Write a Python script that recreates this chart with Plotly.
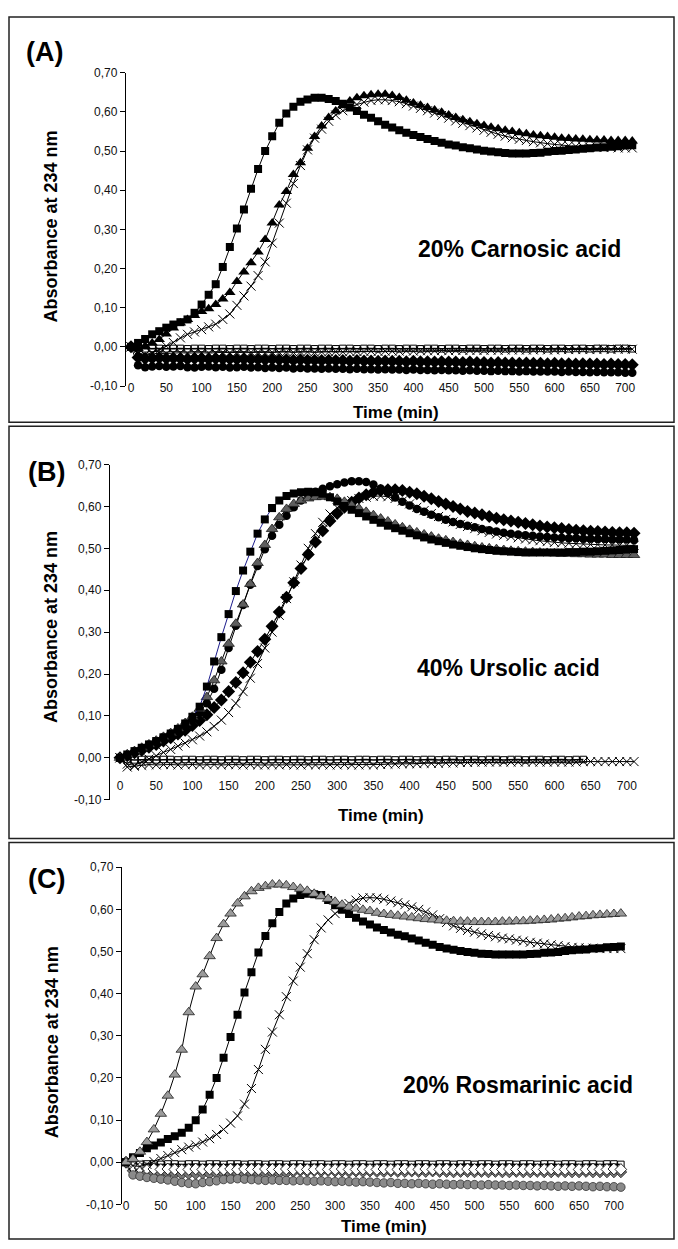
import plotly.graph_objects as go

W, H = 678, 1249

TIME = [0, 10, 20, 30, 40, 50, 60, 70, 80, 90,
        100, 110, 120, 130, 140, 150, 160, 170, 180, 190,
        200, 210, 220, 230, 240, 250, 260, 270, 280, 290,
        300, 310, 320, 330, 340, 350, 360, 370, 380, 390,
        400, 410, 420, 430, 440, 450, 460, 470, 480, 490,
        500, 510, 520, 530, 540, 550, 560, 570, 580, 590,
        600, 610, 620, 630, 640, 650, 660, 670, 680, 690,
        700, 710]

XTICKS = [0, 50, 100, 150, 200, 250, 300, 350, 400, 450, 500, 550, 600, 650, 700]
XTICK_TEXT = ["0", "50", "100", "150", "200", "250", "300", "350", "400", "450",
              "500", "550", "600", "650", "700"]
YTICKS = [-0.1, 0.0, 0.1, 0.2, 0.3, 0.4, 0.5, 0.6, 0.7]
YTICK_TEXT = ["-0,10", "0,00", "0,10", "0,20", "0,30", "0,40", "0,50", "0,60", "0,70"]

# ---------------- Panel A : 20% Carnosic acid ----------------
A_SQUARE = [0.000, 0.010, 0.020, 0.032, 0.040, 0.049, 0.057, 0.063, 0.070, 0.087,
            0.108, 0.133, 0.160, 0.204, 0.255, 0.302, 0.351, 0.404, 0.454, 0.500,
            0.538, 0.572, 0.596, 0.613, 0.626, 0.632, 0.636, 0.636, 0.633, 0.628,
            0.621, 0.611, 0.602, 0.593, 0.585, 0.576, 0.567, 0.560, 0.553, 0.547,
            0.541, 0.536, 0.531, 0.526, 0.521, 0.517, 0.514, 0.510, 0.507, 0.504,
            0.501, 0.499, 0.497, 0.495, 0.494, 0.494, 0.494, 0.495, 0.496, 0.498,
            0.500, 0.501, 0.503, 0.504, 0.506, 0.507, 0.509, 0.510, 0.511, 0.512,
            0.514, 0.515]
A_TRIANGLE = [0.000, -0.004, 0.002, 0.010, 0.019, 0.033, 0.048, 0.061, 0.070, 0.080,
              0.090, 0.097, 0.108, 0.122, 0.139, 0.167, 0.191, 0.215, 0.242, 0.274,
              0.316, 0.362, 0.397, 0.440, 0.470, 0.507, 0.537, 0.564, 0.586, 0.602,
              0.616, 0.628, 0.636, 0.641, 0.644, 0.645, 0.645, 0.642, 0.637, 0.630,
              0.623, 0.617, 0.611, 0.605, 0.599, 0.592, 0.586, 0.580, 0.575, 0.570,
              0.565, 0.561, 0.557, 0.553, 0.550, 0.547, 0.544, 0.541, 0.539, 0.537,
              0.535, 0.533, 0.532, 0.531, 0.530, 0.529, 0.528, 0.528, 0.527, 0.527,
              0.527, 0.526]
A_CROSS = [0.000, -0.015, -0.020, -0.015, -0.008, 0.002, 0.011, 0.023, 0.032, 0.038,
           0.044, 0.051, 0.058, 0.070, 0.084, 0.106, 0.130, 0.155, 0.182, 0.217,
           0.265, 0.316, 0.367, 0.417, 0.463, 0.503, 0.533, 0.556, 0.576, 0.592,
           0.603, 0.612, 0.619, 0.625, 0.629, 0.631, 0.631, 0.629, 0.626, 0.621,
           0.615, 0.609, 0.603, 0.597, 0.591, 0.584, 0.577, 0.571, 0.565, 0.559,
           0.553, 0.548, 0.543, 0.538, 0.534, 0.530, 0.527, 0.524, 0.521, 0.519,
           0.517, 0.515, 0.514, 0.512, 0.511, 0.510, 0.510, 0.509, 0.509, 0.508,
           0.508, 0.508]
A_OPEN_SQUARE = [0.000, -0.004, -0.005, -0.004, -0.004, -0.005, -0.004, -0.004, -0.005, -0.004,
                 -0.004, -0.005, -0.004, -0.004, -0.005, -0.004, -0.004, -0.005, -0.004, -0.004,
                 -0.005, -0.004, -0.004, -0.005, -0.004, -0.004, -0.005, -0.004, -0.004, -0.005,
                 -0.004, -0.004, -0.005, -0.004, -0.004, -0.005, -0.004, -0.004, -0.005, -0.004,
                 -0.004, -0.005, -0.004, -0.004, -0.005, -0.004, -0.004, -0.005, -0.004, -0.004,
                 -0.005, -0.004, -0.004, -0.005, -0.004, -0.004, -0.005, -0.004, -0.004, -0.005,
                 -0.004, -0.004, -0.005, -0.004, -0.004, -0.005, -0.004, -0.004, -0.005, -0.004,
                 -0.004, -0.005]
A_LOW_CROSS = [0.000, -0.018, -0.021, -0.018, -0.016, -0.017, -0.016, -0.015, -0.016, -0.015,
               -0.015, -0.016, -0.015, -0.014, -0.015, -0.014, -0.015, -0.014, -0.014, -0.015,
               -0.014, -0.014, -0.013, -0.014, -0.013, -0.013, -0.014, -0.013, -0.013, -0.012,
               -0.013, -0.012, -0.012, -0.012, -0.011, -0.012, -0.011, -0.011, -0.011, -0.010,
               -0.011, -0.010, -0.010, -0.010, -0.009, -0.010, -0.009, -0.009, -0.009, -0.009,
               -0.009, -0.008, -0.009, -0.008, -0.008, -0.008, -0.008, -0.008, -0.007, -0.008,
               -0.008, -0.007, -0.007, -0.007, -0.007, -0.007, -0.007, -0.006, -0.007, -0.006,
               -0.006, -0.006]
A_DIAMOND = [0.000, -0.027, -0.030, -0.029, -0.028, -0.030, -0.029, -0.030, -0.031, -0.030,
             -0.030, -0.031, -0.030, -0.031, -0.031, -0.032, -0.031, -0.032, -0.032, -0.033,
             -0.032, -0.033, -0.033, -0.034, -0.033, -0.034, -0.034, -0.035, -0.034, -0.035,
             -0.035, -0.036, -0.035, -0.036, -0.036, -0.037, -0.036, -0.037, -0.037, -0.038,
             -0.037, -0.038, -0.038, -0.039, -0.038, -0.039, -0.039, -0.040, -0.039, -0.040,
             -0.040, -0.041, -0.040, -0.041, -0.041, -0.042, -0.041, -0.042, -0.042, -0.043,
             -0.042, -0.043, -0.043, -0.044, -0.043, -0.044, -0.044, -0.045, -0.044, -0.045,
             -0.045, -0.046]
A_CIRCLE = [0.000, -0.047, -0.052, -0.050, -0.049, -0.051, -0.050, -0.049, -0.052, -0.053,
            -0.051, -0.050, -0.052, -0.051, -0.053, -0.052, -0.051, -0.053, -0.052, -0.054,
            -0.053, -0.054, -0.053, -0.055, -0.054, -0.055, -0.055, -0.056, -0.055, -0.056,
            -0.056, -0.057, -0.056, -0.057, -0.057, -0.058, -0.057, -0.058, -0.058, -0.059,
            -0.058, -0.059, -0.059, -0.060, -0.059, -0.060, -0.060, -0.061, -0.060, -0.061,
            -0.061, -0.062, -0.061, -0.062, -0.062, -0.063, -0.062, -0.063, -0.063, -0.063,
            -0.063, -0.064, -0.063, -0.064, -0.064, -0.065, -0.064, -0.065, -0.065, -0.065,
            -0.066, -0.066]

# ---------------- Panel B : 40% Ursolic acid ----------------
B_SQUARE = [0.000, 0.008, 0.016, 0.024, 0.032, 0.040, 0.049, 0.058, 0.069, 0.082,
            0.098, 0.122, 0.170, 0.230, 0.288, 0.343, 0.398, 0.447, 0.492, 0.535,
            0.569, 0.596, 0.614, 0.625, 0.631, 0.634, 0.635, 0.634, 0.630, 0.622,
            0.612, 0.601, 0.592, 0.584, 0.576, 0.568, 0.561, 0.554, 0.548, 0.542,
            0.536, 0.531, 0.526, 0.521, 0.517, 0.513, 0.509, 0.506, 0.503, 0.500,
            0.498, 0.496, 0.494, 0.493, 0.492, 0.491, 0.490, 0.490, 0.490, 0.490,
            0.490, 0.490, 0.491, 0.491, 0.492, 0.492, 0.493, 0.494, 0.495, 0.496,
            0.497, 0.498]
B_TRIANGLE = [0.000, 0.008, 0.016, 0.024, 0.032, 0.041, 0.050, 0.059, 0.070, 0.083,
              0.098, 0.117, 0.145, 0.185, 0.230, 0.272, 0.320, 0.366, 0.415, 0.465,
              0.508, 0.546, 0.574, 0.594, 0.606, 0.614, 0.619, 0.622, 0.623, 0.622,
              0.618, 0.611, 0.603, 0.595, 0.587, 0.579, 0.571, 0.564, 0.557, 0.550,
              0.544, 0.538, 0.533, 0.528, 0.523, 0.519, 0.515, 0.511, 0.508, 0.505,
              0.502, 0.500, 0.498, 0.496, 0.494, 0.493, 0.492, 0.491, 0.490, 0.489,
              0.488, 0.487, 0.487, 0.486, 0.486, 0.485, 0.485, 0.485, 0.484, 0.484,
              0.484, 0.484]
B_CIRCLE = [0.000, 0.007, 0.015, 0.023, 0.031, 0.040, 0.049, 0.058, 0.068, 0.079,
            0.092, 0.108, 0.130, 0.165, 0.210, 0.262, 0.315, 0.365, 0.413, 0.458,
            0.498, 0.530, 0.556, 0.578, 0.598, 0.614, 0.626, 0.635, 0.642, 0.648,
            0.653, 0.657, 0.660, 0.660, 0.658, 0.652, 0.643, 0.632, 0.621, 0.611,
            0.602, 0.594, 0.587, 0.580, 0.574, 0.568, 0.563, 0.558, 0.554, 0.550,
            0.546, 0.543, 0.540, 0.537, 0.535, 0.533, 0.531, 0.530, 0.528, 0.527,
            0.526, 0.525, 0.524, 0.524, 0.523, 0.523, 0.522, 0.522, 0.521, 0.521,
            0.521, 0.520]
B_CROSS = [0.000, -0.015, -0.018, -0.010, -0.003, 0.005, 0.013, 0.020, 0.028, 0.035,
           0.043, 0.052, 0.062, 0.075, 0.090, 0.108, 0.130, 0.158, 0.190, 0.225,
           0.262, 0.300, 0.340, 0.380, 0.420, 0.460, 0.500, 0.535, 0.562, 0.582,
           0.597, 0.607, 0.614, 0.619, 0.622, 0.624, 0.625, 0.623, 0.619, 0.613,
           0.606, 0.598, 0.590, 0.583, 0.576, 0.569, 0.563, 0.557, 0.552, 0.547,
           0.542, 0.538, 0.534, 0.531, 0.528, 0.525, 0.522, 0.520, 0.518, 0.516,
           0.514, 0.513, 0.512, 0.511, 0.510, 0.509, 0.509, 0.508, 0.508, 0.507,
           0.507, 0.507]
B_DIAMOND = [0.000, 0.005, 0.012, 0.018, 0.025, 0.032, 0.040, 0.048, 0.057, 0.066,
             0.077, 0.089, 0.103, 0.120, 0.138, 0.158, 0.180, 0.203, 0.228, 0.254,
             0.283, 0.314, 0.348, 0.383, 0.418, 0.452, 0.485, 0.515, 0.542, 0.565,
             0.583, 0.598, 0.610, 0.620, 0.628, 0.634, 0.638, 0.640, 0.640, 0.638,
             0.634, 0.630, 0.624, 0.618, 0.612, 0.606, 0.600, 0.594, 0.588, 0.584,
             0.580, 0.576, 0.572, 0.568, 0.565, 0.562, 0.559, 0.556, 0.553, 0.551,
             0.549, 0.547, 0.545, 0.543, 0.542, 0.541, 0.540, 0.539, 0.538, 0.537,
             0.537, 0.536]
B_OPEN_SQUARE = [0.000, -0.004, -0.005, -0.004, -0.004, -0.005, -0.004, -0.004, -0.005, -0.004,
                 -0.004, -0.005, -0.004, -0.004, -0.005, -0.004, -0.004, -0.005, -0.004, -0.004,
                 -0.005, -0.004, -0.004, -0.005, -0.004, -0.004, -0.005, -0.004, -0.004, -0.005,
                 -0.004, -0.004, -0.005, -0.004, -0.004, -0.005, -0.004, -0.004, -0.005, -0.004,
                 -0.004, -0.005, -0.004, -0.004, -0.005, -0.004, -0.004, -0.005, -0.004, -0.004,
                 -0.005, -0.004, -0.004, -0.005, -0.004, -0.004, -0.005, -0.004, -0.004, -0.005,
                 -0.004, -0.004, -0.005, -0.004, -0.004, None, None, None, None, None,
                 None, None]
B_LOW_CROSS = [0.000, -0.022, -0.020, -0.018, -0.016, -0.017, -0.016, -0.016, -0.017, -0.016,
               -0.016, -0.017, -0.016, -0.016, -0.017, -0.016, -0.016, -0.017, -0.016, -0.017,
               -0.017, -0.016, -0.017, -0.016, -0.017, -0.017, -0.016, -0.017, -0.016, -0.017,
               -0.017, -0.016, -0.017, -0.017, -0.016, -0.017, -0.016, -0.015, -0.015, -0.014,
               -0.014, -0.014, -0.013, -0.013, -0.013, -0.012, -0.012, -0.011, -0.011, -0.010,
               -0.010, -0.010, -0.010, -0.010, -0.010, -0.010, -0.010, -0.010, -0.010, -0.010,
               -0.010, -0.010, -0.010, -0.010, -0.009, -0.009, -0.009, -0.009, -0.009, -0.009,
               -0.009, -0.009]

# ---------------- Panel C : 20% Rosmarinic acid ----------------
C_TRIANGLE = [0.000, 0.008, 0.025, 0.048, 0.078, 0.115, 0.158, 0.208, 0.267, 0.356,
              0.417, 0.446, 0.489, 0.532, 0.565, 0.590, 0.614, 0.631, 0.643, 0.651,
              0.655, 0.659, 0.659, 0.657, 0.653, 0.649, 0.644, 0.637, 0.631, 0.625,
              0.618, 0.611, 0.606, 0.602, 0.599, 0.596, 0.592, 0.589, 0.587, 0.585,
              0.583, 0.581, 0.579, 0.577, 0.576, 0.574, 0.573, 0.572, 0.571, 0.571,
              0.570, 0.570, 0.570, 0.570, 0.571, 0.571, 0.572, 0.572, 0.573, 0.574,
              0.575, 0.576, 0.578, 0.579, 0.581, 0.583, 0.584, 0.586, 0.587, 0.588,
              0.589, 0.590]
C_SQUARE = [0.000, 0.012, 0.022, 0.033, 0.040, 0.047, 0.055, 0.062, 0.070, 0.082,
            0.100, 0.125, 0.160, 0.200, 0.248, 0.297, 0.350, 0.403, 0.451, 0.498,
            0.537, 0.567, 0.594, 0.614, 0.626, 0.634, 0.637, 0.636, 0.634, 0.622,
            0.610, 0.599, 0.589, 0.580, 0.571, 0.564, 0.557, 0.551, 0.545, 0.540,
            0.536, 0.531, 0.526, 0.521, 0.516, 0.511, 0.507, 0.504, 0.501, 0.499,
            0.497, 0.495, 0.494, 0.493, 0.493, 0.493, 0.493, 0.493, 0.494, 0.495,
            0.497, 0.498, 0.499, 0.501, 0.503, 0.504, 0.505, 0.507, 0.508, 0.510,
            0.511, 0.512]
C_CROSS = [0.000, -0.008, -0.010, -0.005, 0.002, 0.009, 0.016, 0.023, 0.030, 0.036,
           0.041, 0.048, 0.056, 0.066, 0.078, 0.093, 0.110, 0.138, 0.175, 0.220,
           0.268, 0.309, 0.350, 0.393, 0.430, 0.463, 0.495, 0.528, 0.556, 0.575,
           0.590, 0.602, 0.614, 0.622, 0.627, 0.628, 0.627, 0.624, 0.620, 0.616,
           0.611, 0.606, 0.600, 0.594, 0.587, 0.578, 0.569, 0.561, 0.555, 0.550,
           0.546, 0.542, 0.538, 0.535, 0.532, 0.530, 0.527, 0.525, 0.522, 0.520,
           0.518, 0.516, 0.514, 0.512, 0.510, 0.509, 0.508, 0.508, 0.507, 0.507,
           0.507, 0.507]
C_OPEN_SQUARE = [0.000, -0.004, -0.005, -0.004, -0.004, -0.005, -0.004, -0.004, -0.005, -0.004,
                 -0.004, -0.005, -0.004, -0.004, -0.005, -0.004, -0.004, -0.005, -0.004, -0.004,
                 -0.005, -0.004, -0.004, -0.005, -0.004, -0.004, -0.005, -0.004, -0.004, -0.005,
                 -0.004, -0.004, -0.005, -0.004, -0.004, -0.005, -0.004, -0.004, -0.005, -0.004,
                 -0.004, -0.005, -0.004, -0.004, -0.005, -0.004, -0.004, -0.005, -0.004, -0.004,
                 -0.005, -0.004, -0.004, -0.005, -0.004, -0.004, -0.005, -0.004, -0.004, -0.005,
                 -0.004, -0.004, -0.005, -0.004, -0.004, -0.005, -0.004, -0.004, -0.005, -0.004,
                 -0.004, -0.005]
C_OPEN_DIAMOND = [0.000, -0.012, -0.014, -0.015, -0.016, -0.017, -0.016, -0.017, -0.018, -0.017,
                  -0.016, -0.017, -0.016, -0.017, -0.017, -0.016, -0.017, -0.016, -0.017, -0.017,
                  -0.016, -0.017, -0.017, -0.016, -0.017, -0.016, -0.017, -0.017, -0.016, -0.017,
                  -0.017, -0.016, -0.017, -0.017, -0.016, -0.017, -0.017, -0.016, -0.017, -0.017,
                  -0.016, -0.017, -0.017, -0.016, -0.017, -0.017, -0.016, -0.017, -0.017, -0.016,
                  -0.017, -0.017, -0.016, -0.017, -0.017, -0.016, -0.017, -0.017, -0.016, -0.017,
                  -0.017, -0.016, -0.017, -0.017, -0.016, -0.017, -0.017, -0.016, -0.017, -0.017,
                  -0.016, -0.017]
C_GRAY_DIAMOND = [0.000, -0.020, -0.022, -0.024, -0.025, -0.026, -0.026, -0.027, -0.028, -0.027,
                  -0.027, -0.026, -0.027, -0.026, -0.026, -0.027, -0.026, -0.027, -0.026, -0.026,
                  -0.026, -0.025, -0.026, -0.025, -0.022, -0.020, -0.021, -0.020, -0.021, -0.020,
                  -0.021, -0.021, -0.022, -0.021, -0.022, -0.021, -0.022, -0.022, -0.021, -0.022,
                  -0.022, -0.021, -0.022, -0.022, -0.021, -0.022, -0.022, -0.023, -0.022, -0.022,
                  -0.023, -0.022, -0.023, -0.022, -0.023, -0.023, -0.022, -0.023, -0.023, -0.022,
                  -0.023, -0.023, -0.022, -0.023, -0.023, -0.023, -0.022, -0.023, -0.023, -0.023,
                  -0.023, -0.023]
C_GRAY_CIRCLE = [0.000, -0.030, -0.033, -0.036, -0.038, -0.040, -0.042, -0.045, -0.048, -0.050,
                 -0.051, -0.048, -0.046, -0.044, -0.041, -0.040, -0.039, -0.040, -0.041, -0.042,
                 -0.043, -0.042, -0.043, -0.043, -0.044, -0.043, -0.044, -0.045, -0.044, -0.045,
                 -0.046, -0.045, -0.046, -0.047, -0.046, -0.047, -0.048, -0.049, -0.048, -0.050,
                 -0.050, -0.051, -0.050, -0.051, -0.052, -0.051, -0.052, -0.053, -0.052, -0.053,
                 -0.053, -0.054, -0.053, -0.054, -0.054, -0.055, -0.054, -0.055, -0.055, -0.056,
                 -0.055, -0.056, -0.057, -0.056, -0.057, -0.056, -0.057, -0.058, -0.057, -0.058,
                 -0.058, -0.059]

FONT = "Liberation Sans, Arial, sans-serif"

# layout geometry in pixels
PANELS = [
    dict(axx=126, x0=131, s=0.706, y70=66.5, ym10=383.3, xlab=376, box=(9, 10, 674, 420),
         letter="(A)", letter_xy=(44, 46), label="20% Carnosic acid", label_xy=(519, 245),
         ytitle_xy=(51, 222), xtitle_xy=(396, 410)),
    dict(axx=110, x0=120, s=0.724, y70=462.7, ym10=801.7, xlab=779, box=(9, 424, 674, 841),
         letter="(B)", letter_xy=(46, 470), label="40% Ursolic acid", label_xy=(508, 668),
         ytitle_xy=(51, 627), xtitle_xy=(381, 818)),
    dict(axx=122, x0=126, s=0.697, y70=870.0, ym10=1211.0, xlab=1203, box=(9, 845, 674, 1246),
         letter="(C)", letter_xy=(46, 882), label="20% Rosmarinic acid", label_xy=(518, 1090),
         ytitle_xy=(52, 1047), xtitle_xy=(384, 1233)),
]
RIGHT_PX = 662

fig = go.Figure()


def add(vals, idx, symbol, size, fill="black", mline="black", mlw=0.0,
        lcolor="black", lw=1.0):
    xa = "x" if idx == 0 else "x%d" % (idx + 1)
    ya = "y" if idx == 0 else "y%d" % (idx + 1)
    fig.add_trace(go.Scatter(
        x=TIME, y=vals, xaxis=xa, yaxis=ya, mode="lines+markers",
        line=dict(color=lcolor, width=lw),
        marker=dict(symbol=symbol, size=size, color=fill,
                    line=dict(color=mline, width=mlw)),
        showlegend=False, hoverinfo="skip", connectgaps=False))


GRAY = "#8a8a8a"
# Panel A
add(A_OPEN_SQUARE, 0, "square-open", 6.5, fill="black", mlw=1, lw=1.5)
add(A_LOW_CROSS, 0, "x-thin", 9, mline="black", mlw=1)
add(A_DIAMOND, 0, "diamond", 10)
add(A_CIRCLE, 0, "circle", 8.5)
add(A_CROSS, 0, "x-thin", 9, mline="black", mlw=1)
add(A_TRIANGLE, 0, "triangle-up", 10)
add(A_SQUARE, 0, "square", 8)
# Panel B
add(B_OPEN_SQUARE, 1, "square-open", 6.5, fill="black", mlw=1, lw=1.5)
add(B_LOW_CROSS, 1, "x-thin", 9, mline="black", mlw=1)
add(B_DIAMOND, 1, "diamond", 10)
add(B_CROSS, 1, "x-thin", 9, mline="black", mlw=1)
add(B_CIRCLE, 1, "circle", 8.5)
add(B_TRIANGLE, 1, "triangle-up", 10, fill="#5e5e5e", mline="#1a1a1a", mlw=0.8)
add(B_SQUARE, 1, "square", 8, lcolor="#1c1c8c")
# Panel C
add(C_OPEN_SQUARE, 2, "square-open", 6.5, fill="black", mlw=1, lw=1.5)
add(C_GRAY_DIAMOND, 2, "diamond", 9, fill="#777777", mline="#222222", mlw=0.8)
add(C_OPEN_DIAMOND, 2, "diamond", 9, fill="white", mline="#222222", mlw=1)
add(C_GRAY_CIRCLE, 2, "circle", 8.5, fill=GRAY, mline="#333333", mlw=0.8)
add(C_CROSS, 2, "x-thin", 9, mline="black", mlw=1)
add(C_SQUARE, 2, "square", 8)
add(C_TRIANGLE, 2, "triangle-up", 10, fill="#9a9a9a", mline="#222222", mlw=0.8)

layout = dict(width=W, height=H, margin=dict(l=0, r=0, t=0, b=0),
              paper_bgcolor="white", plot_bgcolor="white",
              font=dict(family=FONT, color="#111111"), showlegend=False)
shapes = []
annotations = []


def note(text, xy, size, angle=0):
    annotations.append(dict(text=text, xref="paper", yref="paper",
                            x=xy[0] / W, y=1 - xy[1] / H,
                            xanchor="center", yanchor="middle",
                            textangle=angle, showarrow=False,
                            font=dict(size=size, family=FONT, color="black")))


for i, p in enumerate(PANELS):
    sfx = "" if i == 0 else str(i + 1)
    t_left = (p["axx"] - p["x0"]) / p["s"]
    t_right = (RIGHT_PX - p["x0"]) / p["s"]
    layout["xaxis" + sfx] = dict(
        domain=[p["axx"] / W, RIGHT_PX / W], range=[t_left, t_right],
        anchor="free", position=1 - p["xlab"] / H,
        showline=False, showgrid=False, zeroline=False, ticks="",
        tickmode="array", tickvals=XTICKS, ticktext=XTICK_TEXT,
        tickfont=dict(size=12, family=FONT, color="#111111"))
    layout["yaxis" + sfx] = dict(
        domain=[1 - p["ym10"] / H, 1 - p["y70"] / H], range=[-0.1, 0.7],
        anchor="x" + sfx, showline=True, linecolor="black", linewidth=1.4,
        showgrid=False, zeroline=False, ticks="outside", ticklen=5,
        tickwidth=1.2, tickcolor="black",
        tickmode="array", tickvals=YTICKS, ticktext=YTICK_TEXT,
        tickfont=dict(size=12, family=FONT, color="#111111"))
    bx0, by0, bx1, by1 = p["box"]
    shapes.append(dict(type="rect", xref="paper", yref="paper",
                       x0=bx0 / W, x1=bx1 / W, y0=1 - by1 / H, y1=1 - by0 / H,
                       line=dict(color="#222222", width=1.5)))
    note("<b>%s</b>" % p["letter"], p["letter_xy"], 27)
    note("<b>%s</b>" % p["label"], p["label_xy"], 23)
    note("<b>Absorbance at 234 nm</b>", p["ytitle_xy"], 18, angle=-90)
    note("<b>Time (min)</b>", p["xtitle_xy"], 17)

layout["shapes"] = shapes
layout["annotations"] = annotations
fig.update_layout(**layout)
fig.write_html("out.html")
